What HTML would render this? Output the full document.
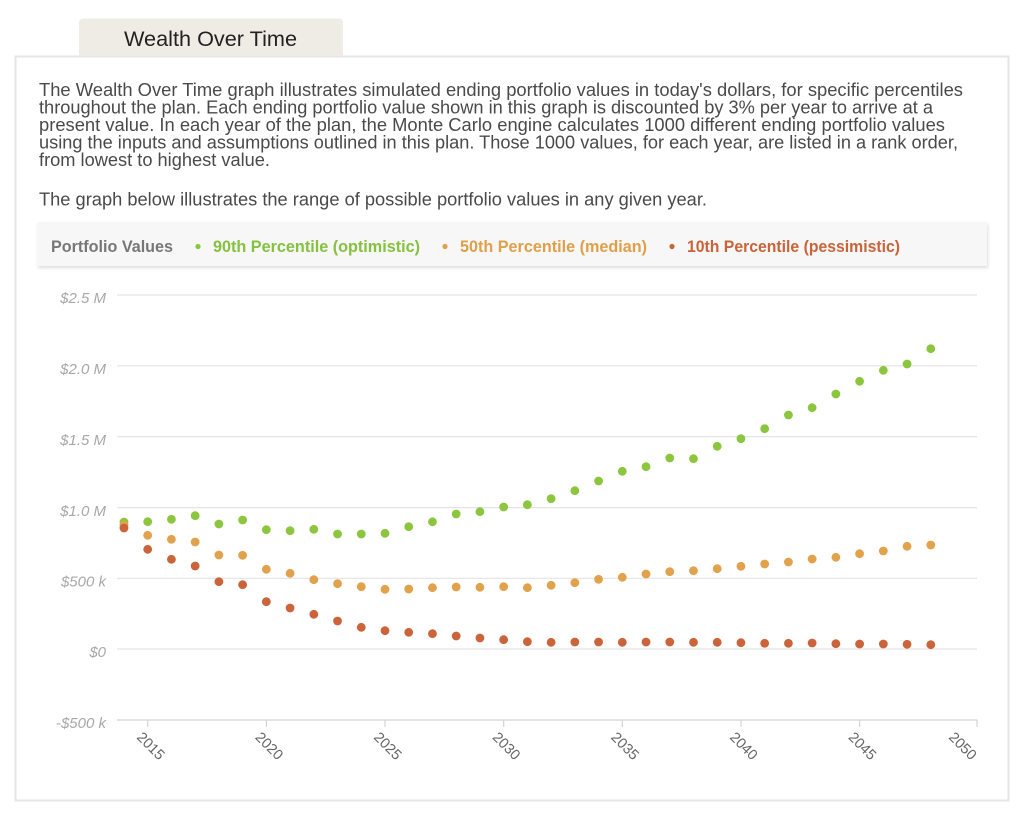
<!DOCTYPE html>
<html>
<head>
<meta charset="utf-8">
<style>
html,body{margin:0;padding:0;background:#fff;}
body{width:1024px;height:821px;overflow:hidden;}
svg{display:block;}
text{font-family:"Liberation Sans",sans-serif;}
</style>
</head>
<body>
<svg width="1024" height="821" viewBox="0 0 1024 821" xmlns="http://www.w3.org/2000/svg">
  <defs>
    <filter id="sh" x="-5%" y="-30%" width="110%" height="170%">
      <feDropShadow dx="1" dy="2" stdDeviation="1.5" flood-color="#000" flood-opacity="0.13"/>
    </filter>
  </defs>
  <!-- card -->
  <rect x="15.5" y="56.5" width="993" height="744" fill="#fff" stroke="#e6e6e6" stroke-width="2"/>
  <!-- tab -->
  <path d="M79,56 L79,23 Q79,18.5 83.5,18.5 L338.5,18.5 Q343,18.5 343,23 L343,56 Z" fill="#efece6"/>
  <text x="124" y="46" font-size="21" fill="#222" textLength="173" lengthAdjust="spacingAndGlyphs">Wealth Over Time</text>

  <!-- paragraph -->
  <g font-size="18.5" fill="#4a4a4a">
    <text x="39" y="96" textLength="924" lengthAdjust="spacingAndGlyphs">The Wealth Over Time graph illustrates simulated ending portfolio values in today's dollars, for specific percentiles</text>
    <text x="39" y="113.5" textLength="894" lengthAdjust="spacingAndGlyphs">throughout the plan. Each ending portfolio value shown in this graph is discounted by 3% per year to arrive at a</text>
    <text x="39" y="131" textLength="906" lengthAdjust="spacingAndGlyphs">present value. In each year of the plan, the Monte Carlo engine calculates 1000 different ending portfolio values</text>
    <text x="39" y="148.5" textLength="919" lengthAdjust="spacingAndGlyphs">using the inputs and assumptions outlined in this plan. Those 1000 values, for each year, are listed in a rank order,</text>
    <text x="39" y="166" textLength="231" lengthAdjust="spacingAndGlyphs">from lowest to highest value.</text>
    <text x="39" y="205.5" textLength="668" lengthAdjust="spacingAndGlyphs">The graph below illustrates the range of possible portfolio values in any given year.</text>
  </g>

  <!-- legend -->
  <rect x="37" y="222" width="950" height="44" fill="#f7f7f7" filter="url(#sh)"/>
  <g font-size="17" font-weight="bold">
    <text x="51" y="252" fill="#777" textLength="122" lengthAdjust="spacingAndGlyphs">Portfolio Values</text>
    <circle cx="198" cy="246.5" r="2.6" fill="#8cc63f"/>
    <text x="213" y="252" fill="#86c240" textLength="207" lengthAdjust="spacingAndGlyphs">90th Percentile (optimistic)</text>
    <circle cx="445" cy="246.5" r="2.6" fill="#e2a14b"/>
    <text x="460" y="252" fill="#e0a04a" textLength="187" lengthAdjust="spacingAndGlyphs">50th Percentile (median)</text>
    <circle cx="672" cy="246.5" r="2.6" fill="#cb643a"/>
    <text x="687" y="252" fill="#c9633a" textLength="213" lengthAdjust="spacingAndGlyphs">10th Percentile (pessimistic)</text>
  </g>

  <!-- gridlines -->
  <g stroke="#e3e3e3" stroke-width="1.2">
    <line x1="117" y1="295" x2="977" y2="295"/>
    <line x1="117" y1="365.8" x2="977" y2="365.8"/>
    <line x1="117" y1="436.6" x2="977" y2="436.6"/>
    <line x1="117" y1="507.6" x2="977" y2="507.6"/>
    <line x1="117" y1="578.3" x2="977" y2="578.3"/>
    <line x1="117" y1="649" x2="977" y2="649"/>
  </g>
  <!-- x axis -->
  <g stroke="#d4d4d4" stroke-width="1.2">
    <line x1="117" y1="720" x2="977.5" y2="720"/>
    <line x1="147.7" y1="720" x2="147.7" y2="727"/>
    <line x1="266.4" y1="720" x2="266.4" y2="727"/>
    <line x1="385" y1="720" x2="385" y2="727"/>
    <line x1="503.7" y1="720" x2="503.7" y2="727"/>
    <line x1="622.3" y1="720" x2="622.3" y2="727"/>
    <line x1="741" y1="720" x2="741" y2="727"/>
    <line x1="859.6" y1="720" x2="859.6" y2="727"/>
    <line x1="977" y1="720" x2="977" y2="727"/>
  </g>

  <!-- y labels -->
  <g font-size="15" font-style="italic" fill="#a8a8a8" text-anchor="end">
    <text x="106" y="303">$2.5 M</text>
    <text x="106" y="374">$2.0 M</text>
    <text x="106" y="445">$1.5 M</text>
    <text x="106" y="516">$1.0 M</text>
    <text x="106" y="586.5">$500 k</text>
    <text x="106" y="657">$0</text>
    <text x="106" y="728">-$500 k</text>
  </g>

  <!-- x labels -->
  <g font-size="14.5" fill="#666">
    <text transform="translate(136,738) rotate(45)">2015</text>
    <text transform="translate(254.5,738) rotate(45)">2020</text>
    <text transform="translate(373,738) rotate(45)">2025</text>
    <text transform="translate(491.7,738) rotate(45)">2030</text>
    <text transform="translate(610.3,738) rotate(45)">2035</text>
    <text transform="translate(729,738) rotate(45)">2040</text>
    <text transform="translate(847.6,738) rotate(45)">2045</text>
    <text transform="translate(948,738) rotate(45)">2050</text>
  </g>

  <!-- 90th percentile -->
  <g fill="#8cc63f">
    <circle cx="123.97" cy="522" r="4.4"/>
    <circle cx="147.7" cy="521.7" r="4.4"/>
    <circle cx="171.43" cy="519.3" r="4.4"/>
    <circle cx="195.16" cy="515.7" r="4.4"/>
    <circle cx="218.89" cy="524" r="4.4"/>
    <circle cx="242.62" cy="520" r="4.4"/>
    <circle cx="266.35" cy="529.7" r="4.4"/>
    <circle cx="290.08" cy="530.7" r="4.4"/>
    <circle cx="313.81" cy="529.3" r="4.4"/>
    <circle cx="337.54" cy="534" r="4.4"/>
    <circle cx="361.27" cy="534" r="4.4"/>
    <circle cx="385" cy="533.3" r="4.4"/>
    <circle cx="408.73" cy="526.7" r="4.4"/>
    <circle cx="432.46" cy="521.8" r="4.4"/>
    <circle cx="456.19" cy="514" r="4.4"/>
    <circle cx="479.92" cy="511.7" r="4.4"/>
    <circle cx="503.65" cy="507" r="4.4"/>
    <circle cx="527.38" cy="504.7" r="4.4"/>
    <circle cx="551.11" cy="498.7" r="4.4"/>
    <circle cx="574.84" cy="490.7" r="4.4"/>
    <circle cx="598.57" cy="481" r="4.4"/>
    <circle cx="622.3" cy="471.3" r="4.4"/>
    <circle cx="646.03" cy="466.7" r="4.4"/>
    <circle cx="669.76" cy="458" r="4.4"/>
    <circle cx="693.49" cy="458.7" r="4.4"/>
    <circle cx="717.22" cy="446.3" r="4.4"/>
    <circle cx="740.95" cy="438.7" r="4.4"/>
    <circle cx="764.68" cy="428.7" r="4.4"/>
    <circle cx="788.41" cy="415" r="4.4"/>
    <circle cx="812.14" cy="407.7" r="4.4"/>
    <circle cx="835.87" cy="394" r="4.4"/>
    <circle cx="859.6" cy="381.3" r="4.4"/>
    <circle cx="883.33" cy="370.3" r="4.4"/>
    <circle cx="907.06" cy="364" r="4.4"/>
    <circle cx="930.79" cy="348.7" r="4.4"/>
  </g>

  <!-- 50th percentile -->
  <g fill="#e2a14b">
    <circle cx="123.97" cy="525" r="4.4"/>
    <circle cx="147.7" cy="535.3" r="4.4"/>
    <circle cx="171.43" cy="539.3" r="4.4"/>
    <circle cx="195.16" cy="542" r="4.4"/>
    <circle cx="218.89" cy="555" r="4.4"/>
    <circle cx="242.62" cy="555.3" r="4.4"/>
    <circle cx="266.35" cy="569.3" r="4.4"/>
    <circle cx="290.08" cy="573.3" r="4.4"/>
    <circle cx="313.81" cy="579.7" r="4.4"/>
    <circle cx="337.54" cy="583.7" r="4.4"/>
    <circle cx="361.27" cy="586.7" r="4.4"/>
    <circle cx="385" cy="589.3" r="4.4"/>
    <circle cx="408.73" cy="589" r="4.4"/>
    <circle cx="432.46" cy="587.7" r="4.4"/>
    <circle cx="456.19" cy="587" r="4.4"/>
    <circle cx="479.92" cy="587.3" r="4.4"/>
    <circle cx="503.65" cy="586.7" r="4.4"/>
    <circle cx="527.38" cy="587.7" r="4.4"/>
    <circle cx="551.11" cy="585.3" r="4.4"/>
    <circle cx="574.84" cy="582.7" r="4.4"/>
    <circle cx="598.57" cy="579.3" r="4.4"/>
    <circle cx="622.3" cy="577.3" r="4.4"/>
    <circle cx="646.03" cy="574" r="4.4"/>
    <circle cx="669.76" cy="571.7" r="4.4"/>
    <circle cx="693.49" cy="570.7" r="4.4"/>
    <circle cx="717.22" cy="568.7" r="4.4"/>
    <circle cx="740.95" cy="566.3" r="4.4"/>
    <circle cx="764.68" cy="564" r="4.4"/>
    <circle cx="788.41" cy="562" r="4.4"/>
    <circle cx="812.14" cy="559" r="4.4"/>
    <circle cx="835.87" cy="557.3" r="4.4"/>
    <circle cx="859.6" cy="553.7" r="4.4"/>
    <circle cx="883.33" cy="551" r="4.4"/>
    <circle cx="907.06" cy="546.3" r="4.4"/>
    <circle cx="930.79" cy="545" r="4.4"/>
  </g>

  <!-- 10th percentile -->
  <g fill="#cb643a">
    <circle cx="123.97" cy="528" r="4.4"/>
    <circle cx="147.7" cy="549.3" r="4.4"/>
    <circle cx="171.43" cy="559.3" r="4.4"/>
    <circle cx="195.16" cy="566" r="4.4"/>
    <circle cx="218.89" cy="581.7" r="4.4"/>
    <circle cx="242.62" cy="584.7" r="4.4"/>
    <circle cx="266.35" cy="601.7" r="4.4"/>
    <circle cx="290.08" cy="608" r="4.4"/>
    <circle cx="313.81" cy="614.3" r="4.4"/>
    <circle cx="337.54" cy="621" r="4.4"/>
    <circle cx="361.27" cy="627.3" r="4.4"/>
    <circle cx="385" cy="630.7" r="4.4"/>
    <circle cx="408.73" cy="632.3" r="4.4"/>
    <circle cx="432.46" cy="633.7" r="4.4"/>
    <circle cx="456.19" cy="636" r="4.4"/>
    <circle cx="479.92" cy="638" r="4.4"/>
    <circle cx="503.65" cy="639.7" r="4.4"/>
    <circle cx="527.38" cy="641.7" r="4.4"/>
    <circle cx="551.11" cy="642.3" r="4.4"/>
    <circle cx="574.84" cy="642" r="4.4"/>
    <circle cx="598.57" cy="642" r="4.4"/>
    <circle cx="622.3" cy="642.3" r="4.4"/>
    <circle cx="646.03" cy="642" r="4.4"/>
    <circle cx="669.76" cy="642" r="4.4"/>
    <circle cx="693.49" cy="642.3" r="4.4"/>
    <circle cx="717.22" cy="642.3" r="4.4"/>
    <circle cx="740.95" cy="642.7" r="4.4"/>
    <circle cx="764.68" cy="643.3" r="4.4"/>
    <circle cx="788.41" cy="643.3" r="4.4"/>
    <circle cx="812.14" cy="643" r="4.4"/>
    <circle cx="835.87" cy="643.7" r="4.4"/>
    <circle cx="859.6" cy="644" r="4.4"/>
    <circle cx="883.33" cy="644" r="4.4"/>
    <circle cx="907.06" cy="644.3" r="4.4"/>
    <circle cx="930.79" cy="644.7" r="4.4"/>
  </g>
</svg>
</body>
</html>
